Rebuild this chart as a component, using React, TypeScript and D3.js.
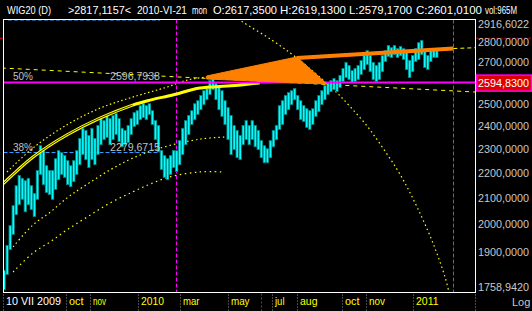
import React from 'react';
import * as d3 from 'd3';

// ---------- data ----------
const startDate = new Date(2009, 6, 10);
const stepDays = 4;

const highs = [
  1834, 1921, 1993, 2068, 2146, 2187, 2175, 2166, 2175, 2146,
  2115, 2207, 2311, 2290, 2227, 2207, 2207, 2256, 2290, 2281,
  2269, 2248, 2227, 2248, 2290, 2342, 2386, 2377, 2355, 2386,
  2342, 2399, 2430, 2421, 2444, 2430, 2444, 2453, 2430, 2386,
  2377, 2399, 2430, 2457, 2466, 2489, 2498, 2489, 2498, 2466,
  2421, 2399, 2290, 2269, 2256, 2269, 2290, 2290, 2333, 2386,
  2421, 2444, 2466, 2498, 2512, 2536, 2559, 2569, 2607, 2617,
  2593, 2583, 2559, 2512, 2480, 2444, 2399, 2377, 2355, 2399,
  2421, 2399, 2421, 2399, 2377, 2333, 2311, 2298, 2333, 2377,
  2399, 2489, 2512, 2536, 2550, 2559, 2569, 2536, 2512, 2489,
  2475, 2466, 2475, 2512, 2536, 2559, 2583, 2597, 2607, 2617,
  2607, 2632, 2666, 2696, 2681, 2656, 2666, 2681, 2706, 2731,
  2756, 2731, 2696, 2681, 2696, 2731, 2756, 2782, 2771, 2782,
  2766, 2777, 2766, 2746, 2706, 2731, 2766, 2797, 2808, 2756,
  2731, 2756, 2766, 2756,
];
const lows = [
  1767, 1817, 1903, 1957, 2030, 2068, 2088, 2041, 2068, 2049,
  2023, 2088, 2187, 2146, 2115, 2107, 2088, 2127, 2166, 2187,
  2175, 2146, 2138, 2158, 2187, 2227, 2269, 2248, 2215, 2248,
  2227, 2269, 2311, 2333, 2342, 2311, 2333, 2355, 2324, 2302,
  2311, 2320, 2355, 2390, 2399, 2421, 2430, 2421, 2444, 2399,
  2333, 2281, 2207, 2175, 2166, 2187, 2215, 2199, 2227, 2269,
  2311, 2355, 2399, 2421, 2444, 2466, 2489, 2512, 2536, 2559,
  2512, 2466, 2435, 2399, 2333, 2269, 2290, 2256, 2248, 2311,
  2333, 2311, 2333, 2302, 2290, 2256, 2235, 2235, 2256, 2302,
  2333, 2377, 2399, 2444, 2466, 2489, 2512, 2466, 2421, 2412,
  2386, 2377, 2399, 2435, 2457, 2489, 2512, 2536, 2550, 2559,
  2550, 2569, 2597, 2617, 2607, 2593, 2597, 2607, 2632, 2656,
  2681, 2646, 2607, 2597, 2607, 2646, 2696, 2721, 2716, 2731,
  2716, 2726, 2706, 2656, 2617, 2646, 2696, 2706, 2731, 2666,
  2656, 2696, 2716, 2716,
];

const yMin = 1758.942;
const yMax = 2916.6022;
const yTickValues = [2800, 2700, 2500, 2400, 2300, 2200, 2100, 2000, 1900];
const lastPrice = 2594.83;
const cursorPrice = 2817.1157;
const cursorDate = '2010-06-21';

const firstDateLabel = '10 VII 2009';
const monthTicks: [string, string][] = [
  ['2009-10-01', 'oct'], ['2009-11-02', 'nov'], ['2010-01-04', '2010'],
  ['2010-03-01', 'mar'], ['2010-05-04', 'may'], ['2010-07-01', 'jul'],
  ['2010-08-02', 'aug'], ['2010-10-01', 'oct'], ['2010-11-02', 'nov'],
  ['2011-01-03', '2011'],
];

const headerParts = ['WIG20 (D)', '>2817,1157<', '2010-VI-21', 'mon', 'O:2617,3500',
  'H:2619,1300', 'L:2579,1700', 'C:2601,0100', 'vol:965M'];

const fibLabels = [{ label: '50%', value: 2596.7938 }, { label: '38%', value: 2279.6715 }];
const blueLevels = [2913.9, 2279.6715];
const blueEndDay = 206;
const magentaVerticalDays = [227, 594];

// overlays as [day offset from start, price]
const thickArc: [number, number][] = [[-3, 2146], [38, 2260], [83, 2355], [127, 2430], [170, 2489], [193, 2512], [223, 2536], [259, 2569], [295, 2578], [338, 2593]];
const upperArc: [number, number][] = [[4, 2199], [38, 2298], [83, 2399], [127, 2475], [170, 2526], [215, 2573], [242, 2607], [268, 2622]];
const trendLine: [number, number][] = [[-3, 2666], [623, 2550]];
const arc3: [number, number][] = [[12, 1914], [38, 1993], [61, 2041], [83, 2095], [104, 2138], [140, 2207], [170, 2256], [206, 2298], [259, 2337], [295, 2346]];
const arc4: [number, number][] = [[12, 1827], [38, 1892], [61, 1932], [83, 1975], [110, 2023], [140, 2076], [170, 2119], [193, 2150], [219, 2179], [259, 2199], [290, 2199]];
const bigArc: [number, number][] = [[300, 2952], [315, 2905], [354, 2808], [387, 2716], [435, 2564], [457, 2484], [480, 2394], [501, 2298], [524, 2187], [546, 2061], [567, 1928], [583, 1810], [589, 1752]];
const orangeWedge: [number, number][] = [[268, 2627], [387, 2721], [427, 2588], [268, 2612]];
const orangeLine: [number, number][] = [[387, 2716], [594, 2764]];
const yellowTail: [number, number][] = [[594, 2764], [623, 2768]];

// ---------- component ----------
export default function App() {
  const W = 532, H = 311;
  const L = 3.5, R = 475.5, T = 19.5, B = 292.5;
  const parse = d3.timeParse('%Y-%m-%d');
  const x = d3.scaleTime().domain([startDate, new Date(2011, 0, 3)]).range([4, 414]);
  const y = d3.scaleLog().domain([yMin, yMax]).range([B, T]);
  const dx = (d: number) => x(startDate.getTime() + d * 86400000);
  const fmt = (v: number) => d3.format('.4f')(v).replace('.', ',');
  const line = d3.line<[number, number]>().x(d => dx(d[0])).y(d => y(d[1])).curve(d3.curveCatmullRom);
  const straight = d3.line<[number, number]>().x(d => dx(d[0])).y(d => y(d[1]));
  const font = '"Liberation Sans", Arial, sans-serif';
  const headerX = [7, 68, 137, 192, 213, 280, 349, 416, 485];
  const headerW = [44, 63, 50, 15, 64, 66, 63, 66, 32];
  const bottomW = [55, 14.5, 13, 23, 16.5, 18.5, 9.5, 17.5, 14.5, 16, 22.5];

  const candles = highs.map((h, i) => {
    const cx = x(d3.timeDay.offset(startDate, i * stepDays));
    return { cx, yh: y(h), yl: y(lows[i]) };
  });

  const yLabels = [yMax, ...yTickValues, yMin];
  const bottomTicks: [Date, string][] = [[startDate, firstDateLabel], ...monthTicks.map(([d, l]) => [parse(d)!, l] as [Date, string])];

  return (
    <svg width={W} height={H} style={{ position: 'fixed', left: 0, top: 0, background: '#000' }} fontFamily={font}>
      <rect x={0} y={0} width={W} height={H} fill="#000" />
      <defs>
        <clipPath id="plot"><rect x={L + 0.5} y={T + 0.5} width={R - L - 1} height={B - T - 1} /></clipPath>
      </defs>

      {headerParts.map((t, i) => (
        <text key={i} x={headerX[i]} y={13.5} fill="#fff" fontSize={11} textLength={headerW[i]} lengthAdjust="spacingAndGlyphs">{t}</text>
      ))}

      <g clipPath="url(#plot)">
        {blueLevels.map((v, i) => (
          <line key={i} x1={i === 0 ? 8 : L} x2={dx(blueEndDay)} y1={y(v)} y2={y(v)} stroke="#3399ff" strokeWidth={1} strokeDasharray="4 2" />
        ))}
        {magentaVerticalDays.map((d, i) => (
          <line key={i} x1={Math.round(dx(d)) + 0.5} x2={Math.round(dx(d)) + 0.5} y1={T} y2={B} stroke="#ff00ff" strokeWidth={1} strokeDasharray="4 2" />
        ))}
        <path d={straight(trendLine)!} fill="none" stroke="#ffff00" strokeWidth={1} strokeDasharray="4 4" />
        <path d={line(upperArc)!} fill="none" stroke="#ffff00" strokeWidth={1.2} strokeDasharray="1.5 2.5" />
        <path d={line(arc3)!} fill="none" stroke="#ffff00" strokeWidth={1.2} strokeDasharray="1.5 3" />
        <path d={line(arc4)!} fill="none" stroke="#ffff00" strokeWidth={1.2} strokeDasharray="1.5 3.5" />
        <path d={line(bigArc)!} fill="none" stroke="#ffff00" strokeWidth={1.2} strokeDasharray="1.5 3" />

        {candles.map((c, i) => (
          <rect key={'t' + i} x={c.cx - 1.5} y={c.yh} width={3.2} height={Math.max(1, c.yl - c.yh)} fill="#008080" />
        ))}
        {candles.map((c, i) => (
          <rect key={'c' + i} x={c.cx - 0.6} y={c.yh + 1} width={1.6} height={Math.max(1, c.yl - c.yh - 2)} fill="#00ffff" />
        ))}

        <path d={line(thickArc)!} fill="none" stroke="#ffff00" strokeWidth={3} />
        <path d={line(thickArc.slice(0, 5))!} fill="none" stroke="#000" strokeWidth={0.8} />

        <line x1={L} x2={R} y1={y(lastPrice)} y2={y(lastPrice)} stroke="#ff00ff" strokeWidth={2} />

        <path d={straight(orangeWedge)! + 'Z'} fill="#ff8000" stroke="#ff8000" strokeWidth={1} />
        <path d={straight(orangeLine)!} fill="none" stroke="#ff8000" strokeWidth={4} />
        <path d={straight(yellowTail)!} fill="none" stroke="#ffff00" strokeWidth={1} strokeDasharray="4 3" />

        {fibLabels.map((f, i) => (
          <g key={i}>
            <text x={13} y={y(f.value) - 2} fill="#c0c0c0" fontSize={11} textLength={20} lengthAdjust="spacingAndGlyphs">{f.label}</text>
            <text x={110} y={y(f.value) - 2} fill="#c0c0c0" fontSize={11} textLength={50} lengthAdjust="spacingAndGlyphs">{fmt(f.value)}</text>
          </g>
        ))}
      </g>

      <rect x={L} y={T} width={R - L} height={B - T} fill="none" stroke="#fff" strokeWidth={1} />

      <line x1={0} x2={L - 0.5} y1={y(cursorPrice)} y2={y(cursorPrice)} stroke="#ff0000" strokeWidth={1} />
      <line x1={R + 1} x2={W} y1={y(cursorPrice)} y2={y(cursorPrice)} stroke="#ff0000" strokeWidth={1} strokeDasharray="2 2" />
      <line x1={Math.round(x(parse(cursorDate)!)) - 4.5} x2={Math.round(x(parse(cursorDate)!)) - 4.5} y1={B + 1} y2={H} stroke="#ff0000" strokeWidth={1} strokeDasharray="2 2" />

      {yLabels.map((v, i) => {
        const yy = Math.min(Math.max(y(v) + 0.8, 24), 287.3);
        return <text key={i} x={478} y={yy + 4} fill="#c8c8c8" fontSize={11} textLength={51} lengthAdjust="spacingAndGlyphs">{fmt(v)}</text>;
      })}
      <rect x={476.5} y={y(lastPrice) - 7.5} width={55} height={16} fill="#dd0000" stroke="#ff00ff" strokeWidth={1.5} />
      <text x={478} y={y(lastPrice) + 4.5} fill="#fff" fontSize={11} textLength={51} lengthAdjust="spacingAndGlyphs">{fmt(lastPrice)}</text>
      <text x={512} y={305.5} fill="#c8c8c8" fontSize={11}>Log</text>

      {bottomTicks.map(([d, l], i) => {
        const tx = Math.round(x(d)) + 0.5;
        return (
          <g key={i}>
            <line x1={tx - 1} x2={tx - 1} y1={B + 2} y2={H} stroke="#909090" strokeWidth={1} strokeDasharray="1 2" />
            <text x={tx + 1.5} y={305} fill={i === 0 ? '#ffffff' : '#ffff00'} fontSize={11} textLength={bottomW[i]} lengthAdjust="spacingAndGlyphs">{l}</text>
          </g>
        );
      })}
      <line x1={R} x2={R} y1={B + 2} y2={H} stroke="#909090" strokeWidth={1} strokeDasharray="1 2" />
    </svg>
  );
}
